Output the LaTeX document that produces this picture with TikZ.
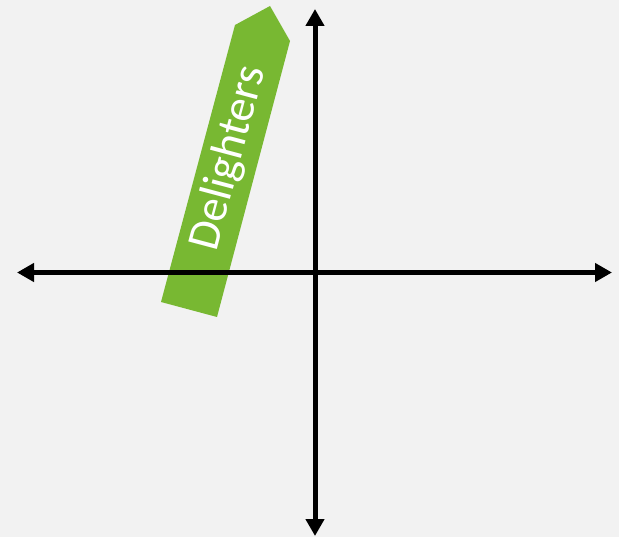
\documentclass[tikz,border=0pt]{standalone}
\usepackage{fontspec}
\setmainfont{Carlito}
\usetikzlibrary{arrows.meta}
\definecolor{bggray}{HTML}{F2F2F2}
\definecolor{delgreen}{HTML}{78B832}

\begin{document}
\begin{tikzpicture}[
    x=1pt, y=-1pt,
    axis/.style={draw=black, line width=5pt, {Triangle[length=17pt,width=18pt]}-{Triangle[length=17pt,width=18pt]}},
    bannertext/.style={text=white, inner sep=0pt, font=\fontsize{46}{52}\selectfont}
]

% Background
\fill[bggray] (0,0) rectangle (619,537);
\useasboundingbox (0,0) rectangle (619,537);

% Axes end points
\coordinate (left) at (17,272.5);
\coordinate (right) at (612,272.5);
\coordinate (top) at (315,9);
\coordinate (bottom) at (315,536);

% Banner
\fill[delgreen] (161,302) -- (217,317) -- (290,41) -- (270,6) -- (235,25) -- cycle;
\node[bannertext, rotate=75.1] (delight) at (229,158) {Delighters};

% Axes
\draw[axis] (left) -- (right);
\draw[axis] (top) -- (bottom);

\end{tikzpicture}
\end{document}
